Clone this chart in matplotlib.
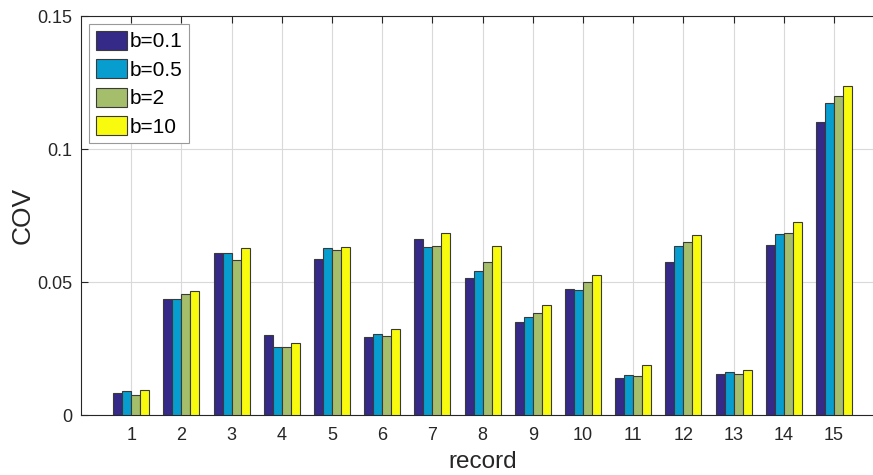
import numpy as np
import matplotlib
matplotlib.use('Agg')
import matplotlib.pyplot as plt

plt.rcParams['font.family'] = ['Liberation Sans', 'DejaVu Sans']

records = np.arange(1, 16)
labels = ['b=0.1', 'b=0.5', 'b=2', 'b=10']

cov_b01 = [0.0082, 0.0437, 0.0609, 0.0299, 0.0585, 0.0293, 0.0663, 0.0515,
           0.0348, 0.0474, 0.0138, 0.0576, 0.0154, 0.0640, 0.1100]
cov_b05 = [0.0089, 0.0436, 0.0610, 0.0256, 0.0628, 0.0305, 0.0630, 0.0541,
           0.0368, 0.0470, 0.0151, 0.0636, 0.0162, 0.0682, 0.1174]
cov_b2 = [0.0075, 0.0456, 0.0583, 0.0257, 0.0621, 0.0296, 0.0636, 0.0574,
          0.0382, 0.0500, 0.0147, 0.0652, 0.0154, 0.0686, 0.1199]
cov_b10 = [0.0095, 0.0468, 0.0628, 0.0272, 0.0632, 0.0323, 0.0685, 0.0636,
           0.0414, 0.0526, 0.0188, 0.0678, 0.0170, 0.0727, 0.1238]

series = [cov_b01, cov_b05, cov_b2, cov_b10]
# parula(4)
colors = ['#352a87', '#079dcf', '#a5be6b', '#f9fb0e']

fig = plt.figure(figsize=(8.73, 4.75), dpi=100)
ax = fig.add_axes([0.0928, 0.1263, 0.92, 0.84])

w = 0.18
for i, (vals, c, lab) in enumerate(zip(series, colors, labels)):
    ax.bar(records + (i - 1.5) * w, vals, width=w, color=c,
           edgecolor='#3a3a3a', linewidth=0.8, label=lab, zorder=3)

ax.set_xlim(0, 16)
ax.set_ylim(0, 0.15)
ax.set_xticks(records)
ax.set_yticks([0, 0.05, 0.1, 0.15])
ax.set_yticklabels(['0', '0.05', '0.1', '0.15'])
ax.tick_params(direction='in', top=True, right=True, labelsize=13,
               length=5, width=0.8, colors='#262626')
ax.tick_params(axis='x', pad=8.5)
ax.tick_params(axis='y', pad=6)
ax.grid(True, color='#d9d9d9', linewidth=0.8, zorder=0)
ax.set_axisbelow(True)
for s in ax.spines.values():
    s.set_color('#262626')
    s.set_linewidth(0.8)

ax.set_xlabel('record', fontsize=17.5, color='#262626', labelpad=5)
ax.set_ylabel('COV', fontsize=19, color='#262626', labelpad=2)

leg = ax.legend(loc='upper left', fontsize=15, handlelength=1.5,
                handleheight=1.05, labelspacing=0.37, handletextpad=0.15,
                borderpad=0.3, borderaxespad=0.4, fancybox=False,
                framealpha=1)
leg.get_frame().set_edgecolor('#999999')
leg.get_frame().set_linewidth(0.8)

fig.savefig('out.png', dpi=100)
